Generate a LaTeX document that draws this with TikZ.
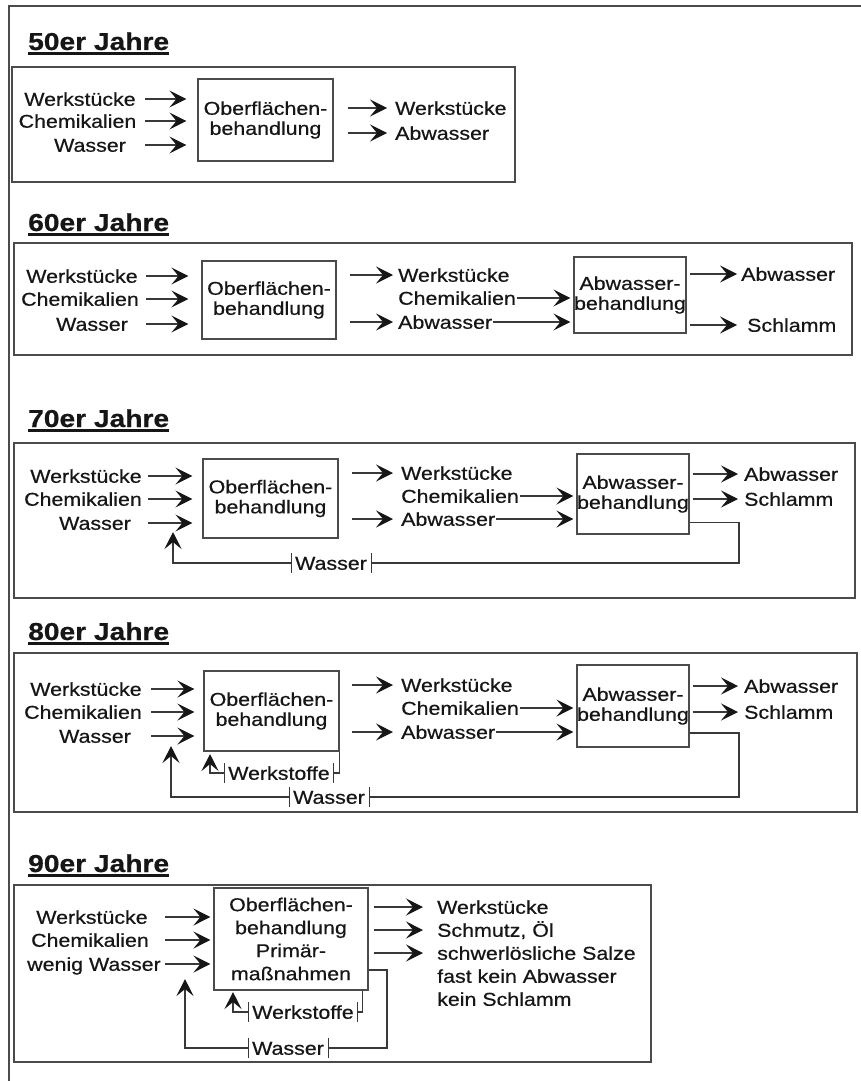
\documentclass[tikz,border=0pt]{standalone}
\usepackage{fontspec}
\setmainfont{Liberation Sans}[FakeStretch=1.15, FakeBold=0.6]
\usetikzlibrary{arrows.meta}
\definecolor{ink}{RGB}{22,22,22}
\definecolor{rulegray}{RGB}{75,75,75}

\begin{document}
\begin{tikzpicture}[x=1pt,y=-1pt,
  every node/.style={inner sep=0pt, text=ink, font=\fontsize{18.6}{20}\selectfont},
  lab/.style={text height=13.5pt, text depth=0pt},
  yeartitle/.style={anchor=base west, font=\fontsize{24.5}{28}\selectfont\bfseries},
  uline/.style={draw=ink, line width=2.4pt},
  page/.style={draw=rulegray, line width=1.3pt},
  panel/.style={draw=rulegray, line width=1.6pt},
  proc/.style={draw=rulegray, line width=1.1pt, align=center},
  line/.style={draw=ink!85, line width=1.1pt},
  flow/.style={line, -{Stealth[length=17pt,width=17pt,inset=7pt,line width=1.2pt,color=ink]}},
  lbl/.style={lab, fill=white, inner xsep=4pt, inner ysep=3pt},
  tick/.style={draw=ink!85, line width=0.9pt}]

\useasboundingbox (0,0) rectangle (861,1081);

% page edge
\draw[page] (9,1081) -- (9,6) -- (861,6);

% ------------------------------------------------ 50er Jahre
\node[yeartitle] (t50) at (28,50) {50er Jahre};
\draw[uline] ([yshift=-3.5pt]t50.base west) -- ([yshift=-3.5pt]t50.base east);
\draw[panel] (12,67) rectangle (515,182);
\node[proc, minimum width=135pt, minimum height=82pt] (ob50) at (265.5,120) {Oberflächen-\\behandlung};
\node[lab] (wk50) at (80,99) {Werkstücke};
\node[lab] (ch50) at (77.5,121) {Chemikalien};
\node[lab] (wa50) at (90,145) {Wasser};
\coordinate (c50) at (145,0);
\foreach \n in {wk50,ch50,wa50}
  \draw[flow, shorten >=11pt] (c50 |- \n) -- (ob50.west |- \n);
\node[lab, anchor=west] (wo50) at (395,108) {Werkstücke};
\node[lab, anchor=west] (ao50) at (395,133) {Abwasser};
\foreach \n in {wo50,ao50}
  \draw[flow, shorten <=14pt, shorten >=8pt] (ob50.east |- \n) -- (\n.west);

% ------------------------------------------------ 60er Jahre
\node[yeartitle] (t60) at (28,231) {60er Jahre};
\draw[uline] ([yshift=-3.5pt]t60.base west) -- ([yshift=-3.5pt]t60.base east);
\draw[panel] (14,243) rectangle (852,355);
\node[proc, minimum width=134pt, minimum height=78pt] (ob60) at (269,300) {Oberflächen-\\behandlung};
\node[proc, minimum width=112pt, minimum height=76pt] (ab60) at (630,295) {Abwasser-\\behandlung};
\node[lab] (wk60) at (82,276) {Werkstücke};
\node[lab] (ch60) at (80,299) {Chemikalien};
\node[lab] (wa60) at (92,324) {Wasser};
\coordinate (c60) at (146,0);
\foreach \n in {wk60,ch60,wa60}
  \draw[flow, shorten >=13pt] (c60 |- \n) -- (ob60.west |- \n);
\node[lab, anchor=west] (wo60) at (398,275) {Werkstücke};
\node[lab, anchor=west] (co60) at (398,298) {Chemikalien};
\node[lab, anchor=west] (ao60) at (398,322) {Abwasser};
\foreach \n in {wo60,ao60}
  \draw[flow, shorten <=13pt, shorten >=5pt] (ob60.east |- \n) -- (\n.west);
\foreach \n in {co60,ao60}
  \draw[flow, shorten <=1pt, shorten >=3pt] (\n.east) -- (ab60.west |- \n);
\node[lab, anchor=west] (ar60) at (741,274) {Abwasser};
\node[lab, anchor=west] (sr60) at (747,325) {Schlamm};
\coordinate (e60) at (737,0);
\foreach \n in {ar60,sr60}
  \draw[flow, shorten <=3pt] (ab60.east |- \n) -- (e60 |- \n);

% ------------------------------------------------ 70er Jahre
\node[yeartitle] (t70) at (28,427) {70er Jahre};
\draw[uline] ([yshift=-3.5pt]t70.base west) -- ([yshift=-3.5pt]t70.base east);
\draw[panel] (14,443) rectangle (855,598);
\node[proc, minimum width=135pt, minimum height=79pt] (ob70) at (270.5,498.5) {Oberflächen-\\behandlung};
\node[proc, minimum width=112pt, minimum height=80pt] (ab70) at (633,494) {Abwasser-\\behandlung};
\node[lab] (wk70) at (86,476) {Werkstücke};
\node[lab] (ch70) at (83,499) {Chemikalien};
\node[lab] (wa70) at (95,523) {Wasser};
\coordinate (c70) at (148,0);
\foreach \n in {wk70,ch70,wa70}
  \draw[flow, shorten >=10pt] (c70 |- \n) -- (ob70.west |- \n);
\node[lab, anchor=west] (wo70) at (401,473) {Werkstücke};
\node[lab, anchor=west] (co70) at (401,496) {Chemikalien};
\node[lab, anchor=west] (ao70) at (401,519) {Abwasser};
\foreach \n in {wo70,ao70}
  \draw[flow, shorten <=13pt, shorten >=8pt] (ob70.east |- \n) -- (\n.west);
\foreach \n in {co70,ao70}
  \draw[flow, shorten <=1pt, shorten >=3pt] (\n.east) -- (ab70.west |- \n);
\node[lab, anchor=west] (ar70) at (744,474) {Abwasser};
\node[lab, anchor=west] (sr70) at (744,499) {Schlamm};
\coordinate (e70) at (738,0);
\foreach \n in {ar70,sr70}
  \draw[flow, shorten <=3pt] (ab70.east |- \n) -- (e70 |- \n);
% water returned to the process
\node[lbl] (w70) at (331,563) {Wasser};
\draw[tick] (w70.north west) -- (w70.south west) (w70.north east) -- (w70.south east);
\coordinate (r70) at (739,563);
\coordinate (t70r) at (173,532);
\draw[line] ([yshift=12pt]ab70.south east) -| (r70) -- (w70.east);
\draw[flow] (w70.west) -| (t70r);

% ------------------------------------------------ 80er Jahre
\node[yeartitle] (t80) at (28,640) {80er Jahre};
\draw[uline] ([yshift=-3.5pt]t80.base west) -- ([yshift=-3.5pt]t80.base east);
\draw[panel] (14,653) rectangle (857,812);
\node[proc, minimum width=135pt, minimum height=80pt] (ob80) at (271.5,711) {Oberflächen-\\behandlung};
\node[proc, minimum width=112pt, minimum height=82pt] (ab80) at (633,706) {Abwasser-\\behandlung};
\node[lab] (wk80) at (86,689) {Werkstücke};
\node[lab] (ch80) at (83,712) {Chemikalien};
\node[lab] (wa80) at (95,736) {Wasser};
\coordinate (c80) at (151,0);
\foreach \n in {wk80,ch80,wa80}
  \draw[flow, shorten >=9pt] (c80 |- \n) -- (ob80.west |- \n);
\node[lab, anchor=west] (wo80) at (401,685) {Werkstücke};
\node[lab, anchor=west] (co80) at (401,708) {Chemikalien};
\node[lab, anchor=west] (ao80) at (401,732) {Abwasser};
\foreach \n in {wo80,ao80}
  \draw[flow, shorten <=12pt, shorten >=8pt] (ob80.east |- \n) -- (\n.west);
\foreach \n in {co80,ao80}
  \draw[flow, shorten <=1pt, shorten >=3pt] (\n.east) -- (ab80.west |- \n);
\node[lab, anchor=west] (ar80) at (744,686) {Abwasser};
\node[lab, anchor=west] (sr80) at (744,712) {Schlamm};
\coordinate (e80) at (738,0);
\foreach \n in {ar80,sr80}
  \draw[flow, shorten <=3pt] (ab80.east |- \n) -- (e80 |- \n);
% materials returned to the process
\node[lbl] (ws80) at (279,773) {Werkstoffe};
\draw[tick] (ws80.north west) -- (ws80.south west) (ws80.north east) -- (ws80.south east);
\coordinate (t80m) at (210,754);
\draw[line] (ob80.south east) |- (ws80.east);
\draw[flow] (ws80.west) -| (t80m);
% water returned to the process
\node[lbl] (w80) at (329,797) {Wasser};
\draw[tick] (w80.north west) -- (w80.south west) (w80.north east) -- (w80.south east);
\coordinate (r80) at (739,797);
\coordinate (t80r) at (171,746);
\draw[line] ([yshift=-27pt]ab80.east) -| (r80) -- (w80.east);
\draw[flow] (w80.west) -| (t80r);

% ------------------------------------------------ 90er Jahre
\node[yeartitle] (t90) at (28,872) {90er Jahre};
\draw[uline] ([yshift=-3.5pt]t90.base west) -- ([yshift=-3.5pt]t90.base east);
\draw[panel] (14,885) rectangle (651,1062);
\node[proc, minimum width=154pt, minimum height=102pt, font=\fontsize{18.6}{23}\selectfont] (ob90) at (291,939)
  {Oberflächen-\\behandlung\\Primär-\\maßnahmen};
\node[lab] (wk90) at (92,917) {Werkstücke};
\node[lab] (ch90) at (90,940) {Chemikalien};
\node[lab] (ww90) at (94,964) {wenig Wasser};
\coordinate (c90) at (165,0);
\foreach \n in {wk90,ch90,ww90}
  \draw[flow, shorten >=3pt] (c90 |- \n) -- (ob90.west |- \n);
\node[lab, anchor=west] (o1) at (437,907) {Werkstücke};
\node[lab, anchor=west] (o2) at (437,930) {Schmutz, Öl};
\node[lab, anchor=west] (o3) at (437,953) {schwerlösliche Salze};
\node[lab, anchor=west] (o4) at (437,976) {fast kein Abwasser};
\node[lab, anchor=west] (o5) at (437,999) {kein Schlamm};
\foreach \n in {o1,o2,o3}
  \draw[flow, shorten <=5pt, shorten >=14pt] (ob90.east |- \n) -- (\n.west);
% materials returned to the process
\node[lbl] (ws90) at (303,1012) {Werkstoffe};
\draw[tick] (ws90.north west) -- (ws90.south west) (ws90.north east) -- (ws90.south east);
\coordinate (t90m) at (233,992);
\draw[line] ([xshift=-6pt]ob90.south east) |- (ws90.east);
\draw[flow] (ws90.west) -| (t90m);
% water returned to the process
\node[lbl] (w90) at (288,1048) {Wasser};
\draw[tick] (w90.north west) -- (w90.south west) (w90.north east) -- (w90.south east);
\coordinate (r90) at (387,1048);
\coordinate (t90r) at (185,979);
\draw[line] ([yshift=-31pt]ob90.east) -| (r90) -- (w90.east);
\draw[flow] (w90.west) -| (t90r);

\end{tikzpicture}
\end{document}
